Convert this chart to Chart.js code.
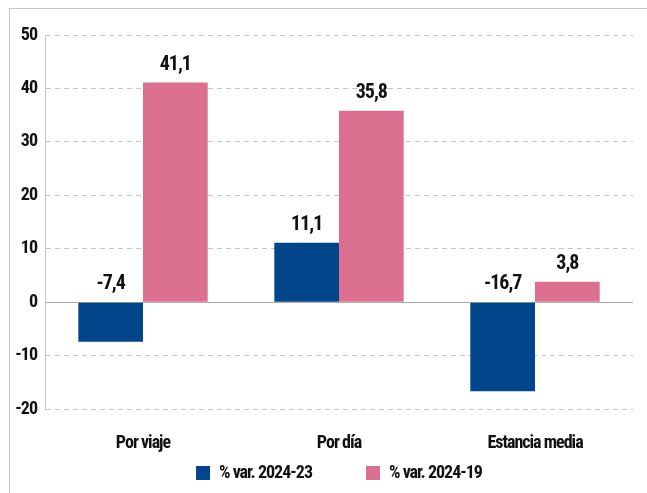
<!DOCTYPE html>
<html>
<head>
<meta charset="utf-8">
<script src="https://cdn.jsdelivr.net/npm/chart.js@4"></script>
<style>
    html, body { margin: 0; padding: 0; background: #fff; }
    #wrap { position: relative; width: 647px; height: 493px; overflow: hidden; }
    #frame {
        position: absolute; left: 9px; top: 8px; width: 700px; height: 600px;
        border: 1px solid #c4c4c4; box-sizing: border-box;
    }
    #chart { position: absolute; left: 0; top: 0; }
</style>
</head>
<body>
<div id="wrap">
    <div id="frame"></div>
    <canvas id="chart" width="647" height="493"></canvas>
</div>
<script>
const categories = ["Por viaje", "Por día", "Estancia media"];
const var2423 = [-7.4, 11.1, -16.7];
const var2419 = [41.1, 35.8, 3.8];
const seriesNames = ["% var. 2024-23", "% var. 2024-19"];
const yTicks = { min: -20, max: 50, step: 10 };

const FONT = "'Roboto Condensed', 'Liberation Sans Narrow', sans-serif";
const BLUE = "#02458a";
const PINK = "#dc7091";
const GRID = "#c6c6c6";

const fmt = (v) => v.toFixed(1).replace(".", ",");

// condensed look: tighten all canvas text a bit
const tightText = {
    id: "tightText",
    beforeLayout(chart) { chart.ctx.letterSpacing = "-1px"; },
    beforeDraw(chart) { chart.ctx.letterSpacing = "-1px"; },
};

// x axis is kept 1px tall so the legend sits close; let its labels draw below it
const xLabelRoom = {
    id: "xLabelRoom",
    afterLayout(chart) { chart.scales.x.bottom = chart.height; },
};

// labels sit above the bar top, or above the zero line when negative
const valueLabels = {
    id: "valueLabels",
    afterDatasetsDraw(chart) {
        const ctx = chart.ctx;
        const zeroY = chart.scales.y.getPixelForValue(0);
        ctx.save();
        ctx.font = "bold 20px " + FONT;
        ctx.fillStyle = "#111";
        ctx.textAlign = "center";
        ctx.textBaseline = "alphabetic";
        chart.data.datasets.forEach((ds, i) => {
            chart.getDatasetMeta(i).data.forEach((bar, j) => {
                const y = Math.min(bar.y, zeroY) - 13;
                ctx.fillText(fmt(ds.data[j]), bar.x, y);
            });
        });
        ctx.restore();
    },
};

const ctx = document.getElementById("chart").getContext("2d");
new Chart(ctx, {
    type: "bar",
    data: {
        labels: categories,
        datasets: [
            { label: seriesNames[0], data: var2423, backgroundColor: BLUE },
            { label: seriesNames[1], data: var2419, backgroundColor: PINK },
        ],
    },
    options: {
        responsive: false,
        animation: false,
        layout: { padding: { top: 35, right: 14, bottom: 1, left: 0 } },
        datasets: { bar: { categoryPercentage: 0.66, barPercentage: 1 } },
        scales: {
            x: {
                grid: { display: false, drawTicks: false },
                border: { display: false },
                ticks: { color: "#111", padding: 24, font: { family: FONT, size: 18, weight: "bold" } },
                afterFit: (scale) => { scale.height = 1; },
            },
            y: {
                min: yTicks.min,
                max: yTicks.max,
                ticks: {
                    stepSize: yTicks.step,
                    color: "#111",
                    padding: 8,
                    font: { family: FONT, size: 18, weight: "bold" },
                },
                afterFit: (scale) => { scale.width = 45; },
                border: {
                    display: true,
                    color: GRID,
                    width: 1,
                    dash: (c) => (c.tick && c.tick.value === 0 ? [] : [5, 4]),
                },
                grid: {
                    drawTicks: false,
                    color: (c) => (c.tick && c.tick.value === 0 ? "#aaaaaa" : GRID),
                    lineWidth: 1,
                },
            },
        },
        plugins: {
            legend: {
                position: "bottom",
                fullSize: false,
                labels: {
                    boxWidth: 14,
                    boxHeight: 14,
                    padding: 54,
                    color: "#111",
                    font: { family: FONT, size: 18, weight: "bold" },
                },
            },
            tooltip: { enabled: false },
        },
    },
    plugins: [tightText, xLabelRoom, valueLabels],
});
</script>
</body>
</html>
